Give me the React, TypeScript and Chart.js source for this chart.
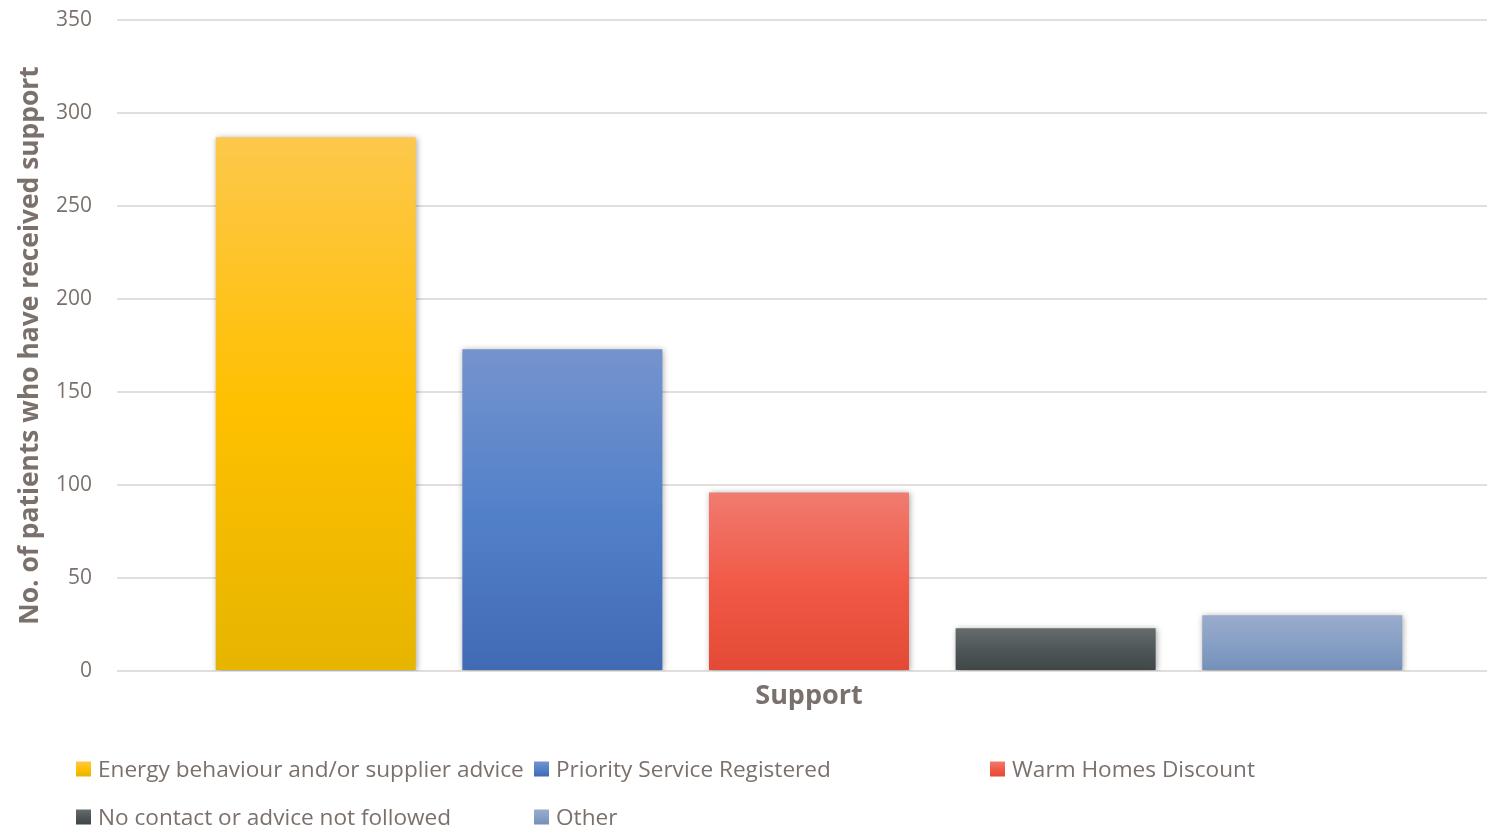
import React, { useEffect, useRef } from "react";
import { Chart, registerables } from "chart.js";

Chart.register(...registerables);

const categories = ["Support"];
const seriesNames = [
  "Energy behaviour and/or supplier advice",
  "Priority Service Registered",
  "Warm Homes Discount",
  "No contact or advice not followed",
  "Other",
];
const seriesValues = [287, 173, 96, 23, 30];
const seriesGradients = [
  ["#FDC84C", "#FFC000", "#E6B500"],
  ["#7593CE", "#5381C9", "#416AB4"],
  ["#F07B70", "#F15A47", "#E34A36"],
  ["#666C6D", "#4E5658", "#3E4648"],
  ["#9AACCC", "#889FC5", "#7390BA"],
];
const yTicks = [0, 50, 100, 150, 200, 250, 300, 350];
const xTitle = "Support";
const yTitle = "No. of patients who have received support";

const TEXT = "#7B716C";
const FONT = "'Open Sans', 'Noto Sans', sans-serif";

function makeGrad(ctx: CanvasRenderingContext2D, top: number, bottom: number, stops: string[]) {
  const g = ctx.createLinearGradient(0, top, 0, bottom);
  g.addColorStop(0, stops[0]);
  g.addColorStop(0.5, stops[1]);
  g.addColorStop(1, stops[2]);
  return g;
}

const shadowPlugin = {
  id: "barShadow",
  beforeDatasetsDraw(chart: any) {
    const ctx = chart.ctx;
    ctx.save();
    ctx.shadowColor = "rgba(0,0,0,0.35)";
    ctx.shadowBlur = 6;
    ctx.shadowOffsetX = 1;
    ctx.shadowOffsetY = 1;
  },
  afterDatasetsDraw(chart: any) {
    chart.ctx.restore();
  },
};

const gridLegendPlugin = {
  id: "gridLegend",
  afterDraw(chart: any) {
    const ctx = chart.ctx as CanvasRenderingContext2D;
    const cols = [76, 534, 990];
    const rows = [769, 817];
    const box = 15;
    ctx.save();
    ctx.font = `22.6px ${FONT}`;
    ctx.textBaseline = "middle";
    ctx.textAlign = "left";
    chart.data.datasets.forEach((ds: any, i: number) => {
      const x = cols[i % 3];
      const y = rows[Math.floor(i / 3)];
      ctx.fillStyle = makeGrad(ctx, y - box / 2, y + box / 2, seriesGradients[i]);
      ctx.fillRect(x, y - box / 2, box, box);
      ctx.fillStyle = TEXT;
      ctx.fillText(ds.label, x + box + 7, y + 2);
    });
    ctx.restore();
  },
};

export default function App() {
  const ref = useRef<HTMLCanvasElement | null>(null);

  useEffect(() => {
    if (!ref.current) return;
    const chart = new Chart(ref.current, {
      type: "bar",
      data: {
        labels: categories,
        datasets: seriesNames.map((name, i) => ({
          label: name,
          data: [seriesValues[i]],
          borderWidth: 0,
          backgroundColor: (c: any) => {
            const ch = c.chart;
            const y = ch.scales && ch.scales.y;
            if (!ch.chartArea || !y) return seriesGradients[i][1];
            const top = y.getPixelForValue(seriesValues[i]);
            const bottom = y.getPixelForValue(0);
            return makeGrad(ch.ctx, top, bottom, seriesGradients[i]);
          },
          categoryPercentage: 0.891,
          barPercentage: 0.811,
        })),
      },
      options: {
        animation: false,
        responsive: true,
        maintainAspectRatio: false,
        layout: { padding: { top: 20, right: 0, bottom: 98, left: 0 } },
        plugins: {
          legend: { display: false },
          tooltip: { enabled: false },
        },
        scales: {
          x: {
            grid: { display: false },
            border: { display: false },
            ticks: { display: false },
            title: {
              display: true,
              text: xTitle,
              color: TEXT,
              font: { family: FONT, size: 27, weight: "bold", lineHeight: 1.2 },
              padding: { top: 0, bottom: 18 },
            },
            afterFit: (s: any) => {
              s.height = 60;
              s.paddingLeft = 0;
              s.paddingRight = 0;
            },
          },
          y: {
            min: 0,
            max: 350,
            afterBuildTicks: (s: any) => {
              s.ticks = yTicks.map((v) => ({ value: v }));
            },
            grid: { color: "#E2DEDC", lineWidth: 2, drawTicks: false },
            border: { display: false },
            ticks: {
              color: TEXT,
              padding: 25,
              font: { family: FONT, size: 21 },
            },
            title: {
              display: true,
              text: yTitle,
              color: TEXT,
              font: { family: FONT, size: 26.4, weight: "bold", lineHeight: 1.2 },
              padding: { top: 15, bottom: 0 },
            },
            afterFit: (s: any) => {
              s.width = 117;
              s.paddingTop = 0;
              s.paddingBottom = 0;
            },
          },
        },
      },
      plugins: [shadowPlugin, gridLegendPlugin],
    });
    return () => chart.destroy();
  }, []);

  return (
    <div style={{ position: "fixed", left: 0, top: 0, width: 1487, height: 829, overflow: "hidden", background: "#fff" }}>
      <div style={{ position: "relative", width: 1501, height: 829 }}>
        <canvas ref={ref} />
      </div>
    </div>
  );
}
